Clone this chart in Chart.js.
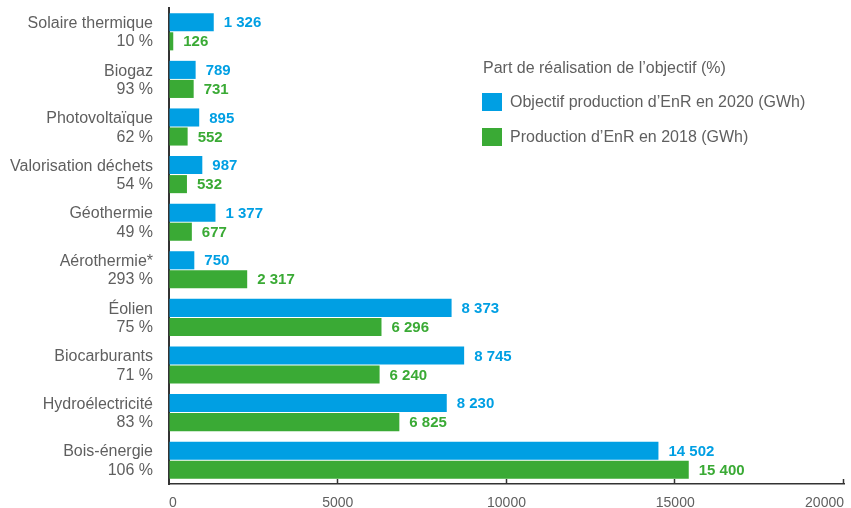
<!DOCTYPE html>
<html>
<head>
<meta charset="utf-8">
<script src="https://cdn.jsdelivr.net/npm/chart.js@4/dist/chart.umd.min.js"></script>
<style>
  html, body { margin: 0; padding: 0; background: #fff; }
  #wrap { width: 851px; height: 508px; }
</style>
</head>
<body>
<div id="wrap"><canvas id="enrChart" width="851" height="508"></canvas></div>
<script>
const categories = ["Solaire thermique", "Biogaz", "Photovoltaïque", "Valorisation déchets", "Géothermie",
  "Aérothermie*", "Éolien", "Biocarburants", "Hydroélectricité", "Bois-énergie"];
const partObjectif = [10, 93, 62, 54, 49, 293, 75, 71, 83, 106];
const objectif2020 = [1326, 789, 895, 987, 1377, 750, 8373, 8745, 8230, 14502];
const production2018 = [126, 731, 552, 532, 677, 2317, 6296, 6240, 6825, 15400];
const xTicks = [0, 5000, 10000, 15000, 20000];

const legendTitle = "Part de réalisation de l’objectif (%)";
const blue = "#009fe3";
const green = "#3aaa35";
const grey = "#5f5f5f";
const axisColor = "#333333";
const fontFamily = "'Liberation Sans', Arial, Helvetica, sans-serif";

function fmt(n) {
  // espace comme séparateur de milliers
  return String(n).replace(/\B(?=(\d{3})+(?!\d))/g, " ");
}

const labels = categories.map((c, i) => [c, partObjectif[i] + " %"]);

// étiquettes de valeur au bout des barres
const valueLabels = {
  id: "valueLabels",
  afterDatasetsDraw(chart) {
    const ctx = chart.ctx;
    ctx.save();
    ctx.font = "bold 15px " + fontFamily;
    ctx.textBaseline = "middle";
    ctx.textAlign = "left";
    chart.data.datasets.forEach((ds, di) => {
      const meta = chart.getDatasetMeta(di);
      ctx.fillStyle = ds.backgroundColor;
      meta.data.forEach((bar, i) => {
        ctx.fillText(fmt(ds.data[i]), bar.x + 10, bar.y + 1);
      });
    });
    ctx.restore();
  }
};

// petites graduations vers l'intérieur
const innerTicks = {
  id: "innerTicks",
  afterDraw(chart) {
    const ctx = chart.ctx;
    const x = chart.scales.x;
    const bottom = chart.chartArea.bottom;
    ctx.save();
    ctx.strokeStyle = axisColor;
    ctx.lineWidth = 1.5;
    xTicks.slice(1).forEach(v => {
      const px = Math.round(x.getPixelForValue(v)) - 0.5;
      ctx.beginPath();
      ctx.moveTo(px, bottom);
      ctx.lineTo(px, bottom - 5);
      ctx.stroke();
    });
    ctx.restore();
  }
};

// légende dans la zone du graphique
const innerLegend = {
  id: "innerLegend",
  afterDraw(chart) {
    const ctx = chart.ctx;
    ctx.save();
    ctx.font = "16px " + fontFamily;
    ctx.textBaseline = "middle";
    ctx.textAlign = "left";
    ctx.fillStyle = grey;
    ctx.fillText(legendTitle, 483, 69);
    chart.data.datasets.forEach((ds, i) => {
      const y = 93 + i * 35;
      ctx.fillStyle = ds.backgroundColor;
      ctx.fillRect(482, y, 20, 18);
      ctx.fillStyle = grey;
      ctx.fillText(ds.label, 510, y + 9.5);
    });
    ctx.restore();
  }
};

new Chart(document.getElementById("enrChart"), {
  type: "bar",
  data: {
    labels: labels,
    datasets: [
      {
        label: "Objectif production d’EnR en 2020 (GWh)",
        data: objectif2020,
        backgroundColor: blue,
        categoryPercentage: 0.8,
        barPercentage: 0.95
      },
      {
        label: "Production d’EnR en 2018 (GWh)",
        data: production2018,
        backgroundColor: green,
        categoryPercentage: 0.8,
        barPercentage: 0.95
      }
    ]
  },
  options: {
    indexAxis: "y",
    responsive: false,
    animation: false,
    layout: { padding: { left: 0, right: 7, top: 8, bottom: 0 } },
    plugins: {
      legend: { display: false },
      tooltip: { enabled: false },
      title: { display: false }
    },
    scales: {
      x: {
        min: 0,
        max: 20000,
        afterBuildTicks: (scale) => { scale.ticks = xTicks.map(v => ({ value: v })); },
        afterFit: (scale) => { scale.height = 24; scale.paddingLeft = 0; scale.paddingRight = 0; },
        grid: { display: true, drawOnChartArea: false, drawTicks: false },
        border: { display: true, color: axisColor, width: 1.5 },
        ticks: {
          align: "inner",
          padding: 11,
          color: grey,
          font: { family: fontFamily, size: 14 },
          callback: (v) => String(v)
        }
      },
      y: {
        afterFit: (scale) => { scale.width = 169; scale.paddingTop = 0; scale.paddingBottom = 0; },
        grid: { display: false, drawTicks: false },
        border: { display: true, color: axisColor, width: 2 },
        ticks: {
          padding: 16,
          labelOffset: 1,
          color: grey,
          font: { family: fontFamily, size: 16, lineHeight: 1.15 }
        }
      }
    }
  },
  plugins: [valueLabels, innerTicks, innerLegend]
});
</script>
</body>
</html>
